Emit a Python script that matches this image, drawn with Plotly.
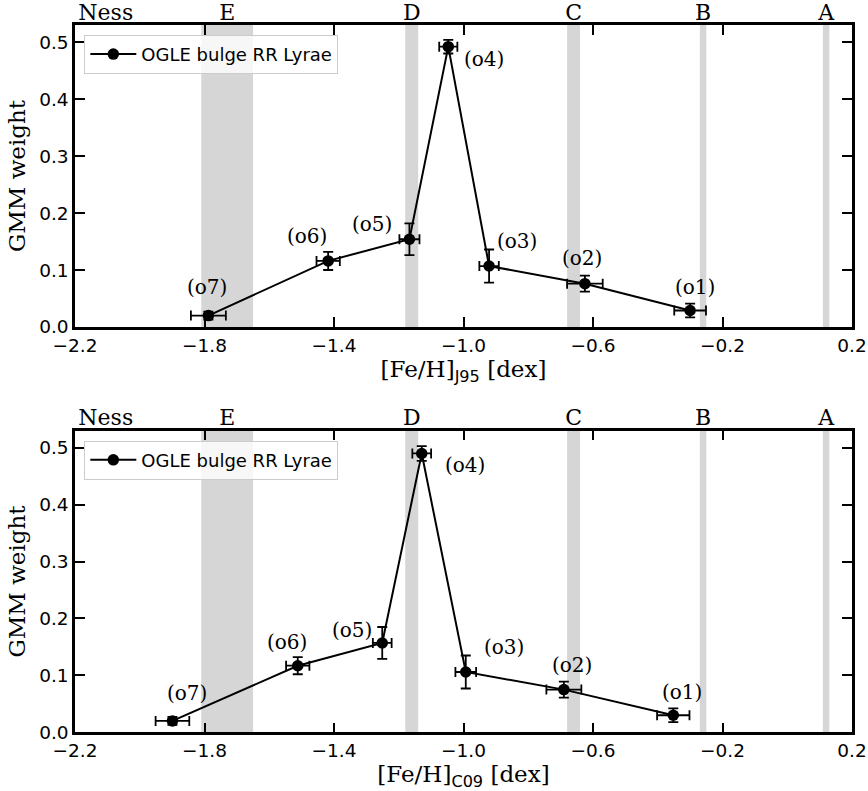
import plotly.graph_objects as go

# ---------------- data ----------------
comp_names = ["(o1)", "(o2)", "(o3)", "(o4)", "(o5)", "(o6)", "(o7)"]

j95_feh = [-0.300, -0.625, -0.921, -1.047, -1.167, -1.418, -1.788]
j95_feh_err = [0.049, 0.055, 0.030, 0.028, 0.031, 0.036, 0.054]
j95_weight = [0.029, 0.076, 0.107, 0.492, 0.154, 0.116, 0.020]
j95_weight_err = [0.012, 0.014, 0.029, 0.012, 0.028, 0.016, 0.007]
j95_label_x = [-0.285, -0.635, -0.836, -0.936, -1.284, -1.484, -1.793]
j95_label_y = [0.071, 0.121, 0.151, 0.470, 0.181, 0.160, 0.071]

c09_feh = [-0.352, -0.690, -0.993, -1.129, -1.251, -1.512, -1.899]
c09_feh_err = [0.050, 0.054, 0.032, 0.029, 0.029, 0.036, 0.052]
c09_weight = [0.030, 0.075, 0.106, 0.490, 0.157, 0.117, 0.020]
c09_weight_err = [0.012, 0.014, 0.029, 0.013, 0.028, 0.015, 0.007]
c09_label_x = [-0.324, -0.664, -0.875, -0.995, -1.345, -1.544, -1.855]
c09_label_y = [0.070, 0.119, 0.150, 0.470, 0.180, 0.159, 0.069]

band_lo = [-1.81, -1.18, -0.68, -0.27, 0.11]
band_hi = [-1.65, -1.14, -0.64, -0.25, 0.13]

peak_names = ["Ness", "E", "D", "C", "B", "A"]
peak_pos = [-2.105, -1.73, -1.16, -0.66, -0.26, 0.12]

series_name = "OGLE bulge RR Lyrae"
x_range = [-2.2, 0.2]
y_range = [0, 0.53]

# ---------------- style ----------------
SERIF = "DejaVu Serif"
SANS = "DejaVu Sans"
W, H = 868, 791
ML, MR, MT, MB = 75, 16, 25, 58

fig = go.Figure()

panels = [
    dict(xa="x", ya="y", legend="legend", fx=j95_feh, fxe=j95_feh_err, w=j95_weight, we=j95_weight_err,
         lx=j95_label_x, ly=j95_label_y),
    dict(xa="x2", ya="y2", legend="legend2", fx=c09_feh, fxe=c09_feh_err, w=c09_weight, we=c09_weight_err,
         lx=c09_label_x, ly=c09_label_y),
]

for p in panels:
    fig.add_trace(go.Scatter(
        x=p["fx"], y=p["w"], xaxis=p["xa"], yaxis=p["ya"],
        mode="lines+markers", name=series_name, legend=p["legend"],
        line=dict(color="black", width=2),
        marker=dict(color="black", size=11.5),
        error_x=dict(type="data", array=p["fxe"], color="black", thickness=1.8, width=5),
        error_y=dict(type="data", array=p["we"], color="black", thickness=1.8, width=5),
    ))
    for lo, hi in zip(band_lo, band_hi):
        fig.add_shape(type="rect", xref=p["xa"], yref=p["ya"] + " domain",
                      x0=lo, x1=hi, y0=0, y1=1, fillcolor="#d6d6d6",
                      line=dict(width=0), layer="below")
    for name, lx, ly in zip(comp_names, p["lx"], p["ly"]):
        fig.add_annotation(x=lx, y=ly, xref=p["xa"], yref=p["ya"], text=name,
                           showarrow=False, xanchor="center", yanchor="middle",
                           font=dict(family=SERIF, size=20, color="black"))

# invisible traces that activate the top (peak-label) axes
fig.add_trace(go.Scatter(x=[x_range[0]], y=[0], xaxis="x3", yaxis="y", showlegend=False,
                         mode="markers", marker=dict(opacity=0), hoverinfo="skip"))
fig.add_trace(go.Scatter(x=[x_range[0]], y=[0], xaxis="x4", yaxis="y2", showlegend=False,
                         mode="markers", marker=dict(opacity=0), hoverinfo="skip"))

PH = H - MT - MB
top_dom = [1 - (327 - MT) / PH, 1.0]
bot_dom = [max(0.0, 1 - (732.3 - MT) / PH), 1 - (430.7 - MT) / PH]

common_x = dict(range=x_range, tick0=-2.2, dtick=0.4, tickformat=".1f",
                ticks="inside", ticklen=10, tickwidth=2, tickcolor="black",
                showline=True, linewidth=2.5, linecolor="black", mirror="ticks",
                showgrid=False, zeroline=False, automargin=False,
                tickfont=dict(family=SANS, size=18.5, color="black"))
common_y = dict(range=y_range, tick0=0, dtick=0.1, tickformat=".1f",
                ticks="inside", ticklen=10, tickwidth=2, tickcolor="black",
                showline=True, linewidth=2.5, linecolor="black", mirror="ticks",
                showgrid=False, zeroline=False, automargin=False,
                tickfont=dict(family=SANS, size=18.5, color="black"),
                title=dict(text="GMM weight", font=dict(family=SERIF, size=23, color="black"), standoff=8))
top_axis = dict(range=x_range, tickvals=peak_pos, ticktext=peak_names, ticks="",
                showline=False, showgrid=False, zeroline=False, side="top", automargin=False,
                ticklabelstandoff=0,
                tickfont=dict(family=SERIF, size=22, color="black"))

sub = '<sub><span style="font-family:DejaVu Sans">%s</span></sub>'

legend_style = dict(xanchor="left", yanchor="top", itemwidth=46,
                    bgcolor="rgba(255,255,255,0.8)", bordercolor="#cccccc", borderwidth=1,
                    font=dict(family=SANS, size=18, color="black"))

fig.update_layout(
    width=W, height=H,
    margin=dict(l=ML, r=MR, t=MT, b=MB),
    plot_bgcolor="white", paper_bgcolor="white",
    xaxis=dict(common_x, anchor="y",
               title=dict(text="[Fe/H]" + sub % "J95" + " [dex]", font=dict(family=SERIF, size=23, color="black"), standoff=4)),
    yaxis=dict(common_y, anchor="x", domain=top_dom),
    xaxis2=dict(common_x, anchor="y2",
                title=dict(text="[Fe/H]" + sub % "C09" + " [dex]", font=dict(family=SERIF, size=23, color="black"), standoff=4)),
    yaxis2=dict(common_y, anchor="x2", domain=bot_dom),
    xaxis3=dict(top_axis, overlaying="x", anchor="y"),
    xaxis4=dict(top_axis, overlaying="x2", anchor="y2"),
    legend=dict(legend_style, x=0.012, y=top_dom[1] - 0.014),
    legend2=dict(legend_style, x=0.012, y=bot_dom[1] - 0.014),
    showlegend=True,
)

fig.write_html("out.html")
